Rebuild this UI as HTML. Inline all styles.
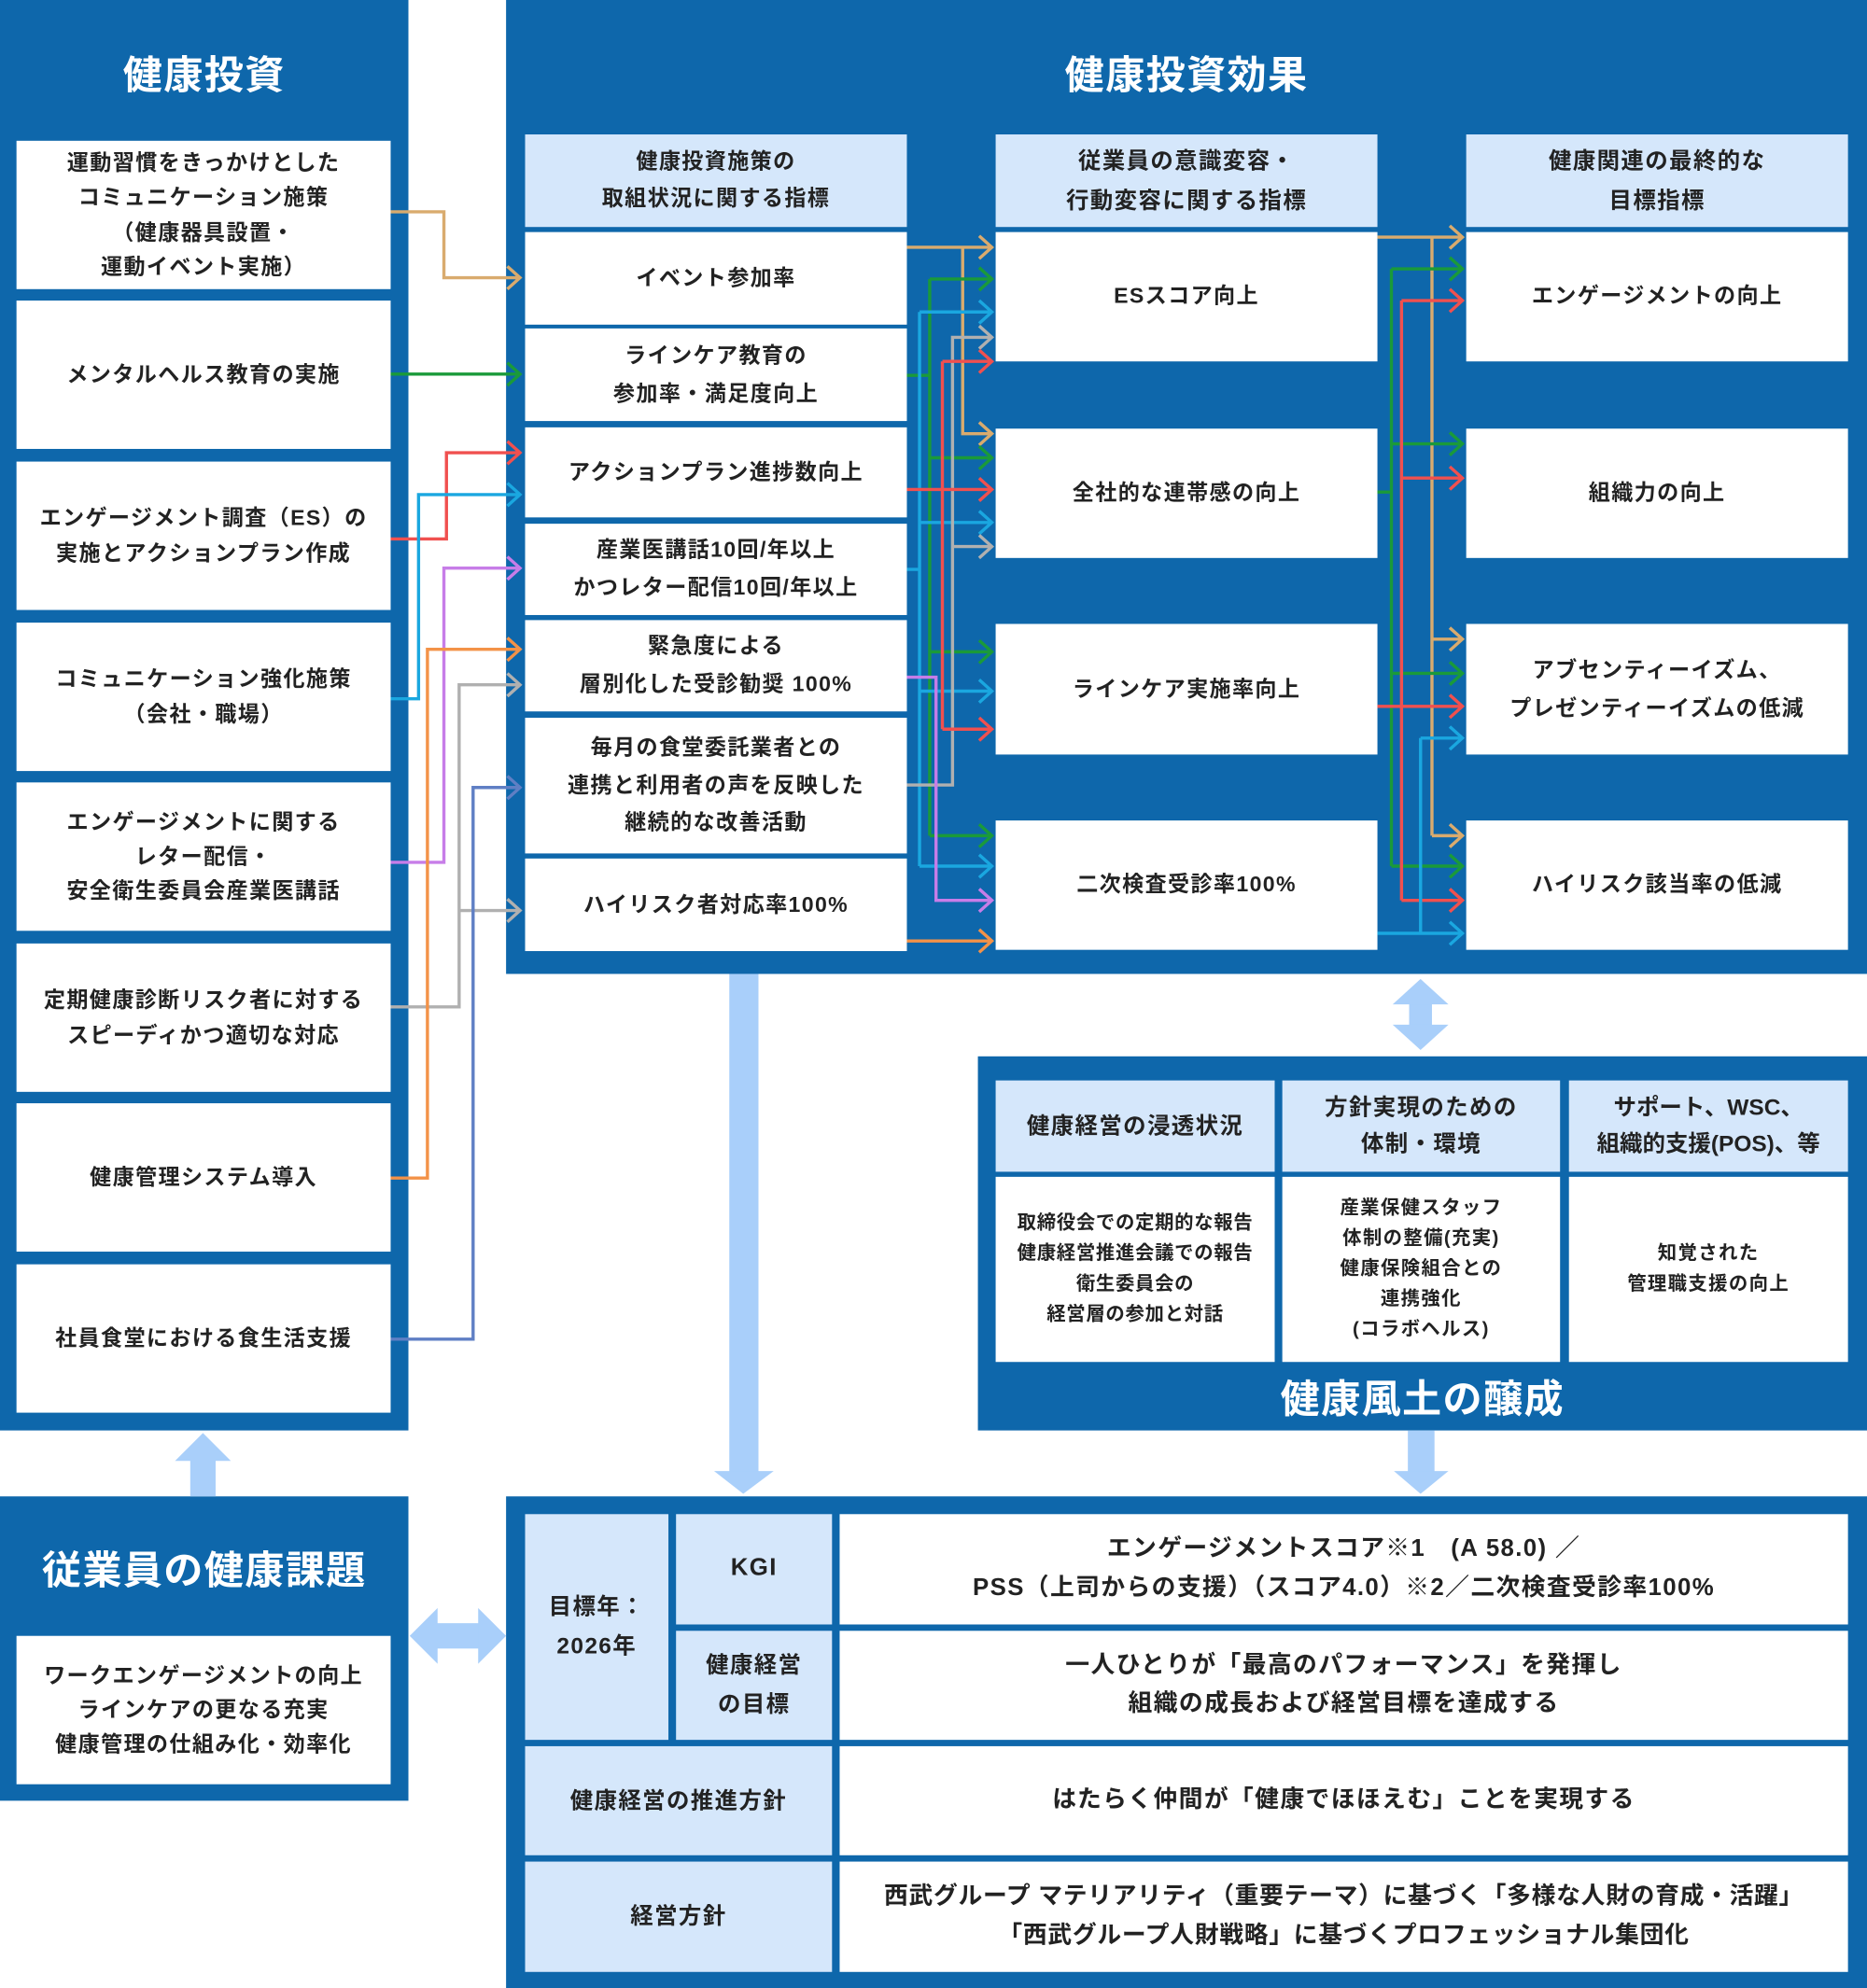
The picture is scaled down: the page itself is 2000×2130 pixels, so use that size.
<!DOCTYPE html>
<html><head><meta charset="utf-8"><style>
html,body{margin:0;padding:0;background:#fff;}
body{width:2000px;height:2130px;overflow:hidden;}
#w{position:absolute;left:0;top:0;width:1472px;height:1568px;transform:scale(1.35870);transform-origin:0 0;font-family:"Liberation Sans","Noto Sans CJK JP",sans-serif;}
.p{position:absolute;background:#0e67ab;}
.b{position:absolute;background:#fff;display:flex;align-items:center;justify-content:center;text-align:center;color:#222;font-size:17px;font-weight:bold;line-height:1.6;box-sizing:border-box;letter-spacing:1px;white-space:nowrap;}
.h{background:#d5e7fb;}
.t{position:absolute;color:#fff;font-weight:bold;font-size:31px;text-align:center;letter-spacing:1px;}
svg{position:absolute;left:0;top:0;}
</style></head><body><div id="w">
<div class="p" style="left:0;top:0;width:322px;height:1128px"></div>
<div class="p" style="left:399px;top:0;width:1073px;height:768px"></div>
<div class="p" style="left:771px;top:833px;width:701px;height:295px"></div>
<div class="p" style="left:0;top:1180px;width:322px;height:240px"></div>
<div class="p" style="left:399px;top:1180px;width:1073px;height:388px"></div>

<div class="t" style="left:0;top:34px;width:322px">健康投資</div>
<div class="t" style="left:399px;top:34px;width:1073px">健康投資効果</div>
<div class="t" style="left:771px;top:1078px;width:701px">健康風土の醸成</div>
<div class="t" style="left:0;top:1213px;width:322px">従業員の健康課題</div>

<div class="b" style="left:13px;top:111px;width:295px;height:117px">運動習慣をきっかけとした<br>コミュニケーション施策<br>（健康器具設置・<br>運動イベント実施）</div>
<div class="b" style="left:13px;top:237px;width:295px;height:117px">メンタルヘルス教育の実施</div>
<div class="b" style="left:13px;top:364px;width:295px;height:117px">エンゲージメント調査（ES）の<br>実施とアクションプラン作成</div>
<div class="b" style="left:13px;top:491px;width:295px;height:117px">コミュニケーション強化施策<br>（会社・職場）</div>
<div class="b" style="left:13px;top:617px;width:295px;height:117px">エンゲージメントに関する<br>レター配信・<br>安全衛生委員会産業医講話</div>
<div class="b" style="left:13px;top:744px;width:295px;height:117px">定期健康診断リスク者に対する<br>スピーディかつ適切な対応</div>
<div class="b" style="left:13px;top:870px;width:295px;height:117px">健康管理システム導入</div>
<div class="b" style="left:13px;top:997px;width:295px;height:117px">社員食堂における食生活支援</div>

<div class="b h" style="left:414px;top:106px;width:301px;height:73px;line-height:1.7">健康投資施策の<br>取組状況に関する指標</div>
<div class="b" style="left:414px;top:183px;width:301px;height:73px">イベント参加率</div>
<div class="b" style="left:414px;top:259px;width:301px;height:73px;line-height:1.75">ラインケア教育の<br>参加率・満足度向上</div>
<div class="b" style="left:414px;top:337px;width:301px;height:71px">アクションプラン進捗数向上</div>
<div class="b" style="left:414px;top:413px;width:301px;height:72px;line-height:1.75">産業医講話10回/年以上<br>かつレター配信10回/年以上</div>
<div class="b" style="left:414px;top:489px;width:301px;height:72px;line-height:1.75">緊急度による<br>層別化した受診勧奨 100%</div>
<div class="b" style="left:414px;top:566px;width:301px;height:107px;line-height:1.75">毎月の食堂委託業者との<br>連携と利用者の声を反映した<br>継続的な改善活動</div>
<div class="b" style="left:414px;top:677px;width:301px;height:73px">ハイリスク者対応率100%</div>

<div class="b h" style="left:785px;top:106px;width:301px;height:73px;line-height:1.7;font-size:18px">従業員の意識変容・<br>行動変容に関する指標</div>
<div class="b" style="left:785px;top:183px;width:301px;height:102px">ESスコア向上</div>
<div class="b" style="left:785px;top:338px;width:301px;height:102px">全社的な連帯感の向上</div>
<div class="b" style="left:785px;top:492px;width:301px;height:103px">ラインケア実施率向上</div>
<div class="b" style="left:785px;top:647px;width:301px;height:102px">二次検査受診率100%</div>

<div class="b h" style="left:1156px;top:106px;width:301px;height:73px;line-height:1.7;font-size:18px">健康関連の最終的な<br>目標指標</div>
<div class="b" style="left:1156px;top:183px;width:301px;height:102px">エンゲージメントの向上</div>
<div class="b" style="left:1156px;top:338px;width:301px;height:102px">組織力の向上</div>
<div class="b" style="left:1156px;top:492px;width:301px;height:103px;line-height:1.75">アブセンティーイズム、<br>プレゼンティーイズムの低減</div>
<div class="b" style="left:1156px;top:647px;width:301px;height:102px">ハイリスク該当率の低減</div>

<div class="b h" style="left:785px;top:852px;width:220px;height:72px;font-size:18px">健康経営の浸透状況</div>
<div class="b h" style="left:1011px;top:852px;width:219px;height:72px;font-size:18px">方針実現のための<br>体制・環境</div>
<div class="b h" style="left:1237px;top:852px;width:220px;height:72px;font-size:18px;letter-spacing:0">サポート、WSC、<br>組織的支援(POS)、等</div>
<div class="b" style="left:785px;top:928px;width:220px;height:146px;font-size:15px;letter-spacing:0.5px">取締役会での定期的な報告<br>健康経営推進会議での報告<br>衛生委員会の<br>経営層の参加と対話</div>
<div class="b" style="left:1011px;top:928px;width:219px;height:146px;font-size:15px">産業保健スタッフ<br>体制の整備(充実)<br>健康保険組合との<br>連携強化<br>(コラボヘルス)</div>
<div class="b" style="left:1237px;top:928px;width:220px;height:146px;font-size:15px">知覚された<br>管理職支援の向上</div>

<div class="b" style="left:13px;top:1290px;width:295px;height:117px;line-height:1.6">ワークエンゲージメントの向上<br>ラインケアの更なる充実<br>健康管理の仕組み化・効率化</div>

<div class="b h" style="left:414px;top:1194px;width:113px;height:178px;font-size:18px;line-height:1.7">目標年：<br>2026年</div>
<div class="b h" style="left:533px;top:1194px;width:123px;height:87px;font-size:19px">KGI</div>
<div class="b h" style="left:533px;top:1286px;width:123px;height:86px;font-size:18px;line-height:1.7">健康経営<br>の目標</div>
<div class="b" style="left:662px;top:1194px;width:795px;height:87px;font-size:19px;line-height:1.6">エンゲージメントスコア※1　(A 58.0) ／<br>PSS（上司からの支援）（スコア4.0）※2／二次検査受診率100%</div>
<div class="b" style="left:662px;top:1286px;width:795px;height:86px;font-size:19px;line-height:1.6">一人ひとりが「最高のパフォーマンス」を発揮し<br>組織の成長および経営目標を達成する</div>
<div class="b h" style="left:414px;top:1377px;width:242px;height:86px;font-size:18px">健康経営の推進方針</div>
<div class="b" style="left:662px;top:1377px;width:795px;height:86px;font-size:19px">はたらく仲間が「健康でほほえむ」ことを実現する</div>
<div class="b h" style="left:414px;top:1468px;width:242px;height:87px;font-size:18px">経営方針</div>
<div class="b" style="left:662px;top:1468px;width:795px;height:87px;font-size:19px;line-height:1.6;letter-spacing:0.5px">西武グループ マテリアリティ（重要テーマ）に基づく「多様な人財の育成・活躍」<br>「西武グループ人財戦略」に基づくプロフェッショナル集団化</div>

<svg width="1472" height="1568" viewBox="0 0 1472 1568" fill="none" stroke-width="2.5">
<g fill="#a9cffa" stroke="none">
<rect x="575" y="768" width="23" height="394"/><polygon points="563,1160 610,1160 586,1178"/>
<rect x="1110" y="1128" width="21" height="34"/><polygon points="1099,1160 1142,1160 1120,1178"/>
<rect x="1111" y="790" width="18" height="20"/><polygon points="1098,792 1142,792 1120,772"/><polygon points="1098,808 1142,808 1120,828"/>
<rect x="150" y="1150" width="20" height="30"/><polygon points="138,1152 182,1152 160,1130"/>
<rect x="343" y="1280" width="36" height="20"/><polygon points="345,1268 345,1312 323,1290"/><polygon points="377,1268 377,1312 399,1290"/>
</g>
<g stroke-linejoin="miter">
<path stroke="#d9ab6e" d="M308 167H350V219H410M400 210L410 219L400 228"/>
<path stroke="#1a9a3a" d="M308 295H410M400 286L410 295L400 304"/>
<path stroke="#f0504f" d="M308 425H352V357H410M400 348L410 357L400 366"/>
<path stroke="#1aa7e0" d="M308 551H330V390H410M400 381L410 390L400 399"/>
<path stroke="#c77de8" d="M308 680H350V448H410M400 439L410 448L400 457"/>
<path stroke="#b0b0b0" d="M308 794H362V540H410M362 718H410M400 531L410 540L400 549M400 709L410 718L400 727"/>
<path stroke="#f39248" d="M308 929H337V512H410M400 503L410 512L400 521"/>
<path stroke="#5f7fc4" d="M308 1056H373V621H410M400 612L410 621L400 630"/>
<path stroke="#d9ab6e" d="M715 195H782M759 195V342H782"/>
<path stroke="#1a9a3a" d="M715 296H733M733 220V659M733 220H782M733 361H782M733 514H782M733 659H782"/>
<path stroke="#1aa7e0" d="M715 449H725M725 246V683M725 246H782M725 412H782M725 545H782M725 683H782"/>
<path stroke="#b0b0b0" d="M715 619H751V266H782M751 431H782"/>
<path stroke="#f0504f" d="M715 386H782M743 285V575M743 285H782M743 575H782"/>
<path stroke="#c77de8" d="M715 534H738V710H782"/>
<path stroke="#f39248" d="M715 742H782"/>
<path stroke="#d9ab6e" d="M1086 187H1153M1129 187V659M1129 504H1153M1129 659H1153"/>
<path stroke="#1a9a3a" d="M1086 388H1097M1097 212V683M1097 212H1153M1097 350H1153M1097 531H1153M1097 683H1153"/>
<path stroke="#f0504f" d="M1086 557H1153M1105 237V710M1105 237H1153M1105 377H1153M1105 710H1153"/>
<path stroke="#1aa7e0" d="M1086 736H1153M1120 582V736M1120 582H1153"/>
</g>
<g>
<path stroke="#d9ab6e" d="M772 186L782 195L772 204M772 333L782 342L772 351M1143 178L1153 187L1143 196M1143 495L1153 504L1143 513M1143 650L1153 659L1143 668"/>
<path stroke="#1a9a3a" d="M772 211L782 220L772 229M772 352L782 361L772 370M772 505L782 514L772 523M772 650L782 659L772 668M1143 203L1153 212L1143 221M1143 341L1153 350L1143 359M1143 522L1153 531L1143 540M1143 674L1153 683L1143 692"/>
<path stroke="#1aa7e0" d="M772 237L782 246L772 255M772 403L782 412L772 421M772 536L782 545L772 554M772 674L782 683L772 692M1143 573L1153 582L1143 591M1143 727L1153 736L1143 745"/>
<path stroke="#b0b0b0" d="M772 257L782 266L772 275M772 422L782 431L772 440"/>
<path stroke="#f0504f" d="M772 276L782 285L772 294M772 377L782 386L772 395M772 566L782 575L772 584M1143 228L1153 237L1143 246M1143 368L1153 377L1143 386M1143 548L1153 557L1143 566M1143 701L1153 710L1143 719"/>
<path stroke="#c77de8" d="M772 701L782 710L772 719"/>
<path stroke="#f39248" d="M772 733L782 742L772 751"/>
</g>
</svg>
</div></body></html>
